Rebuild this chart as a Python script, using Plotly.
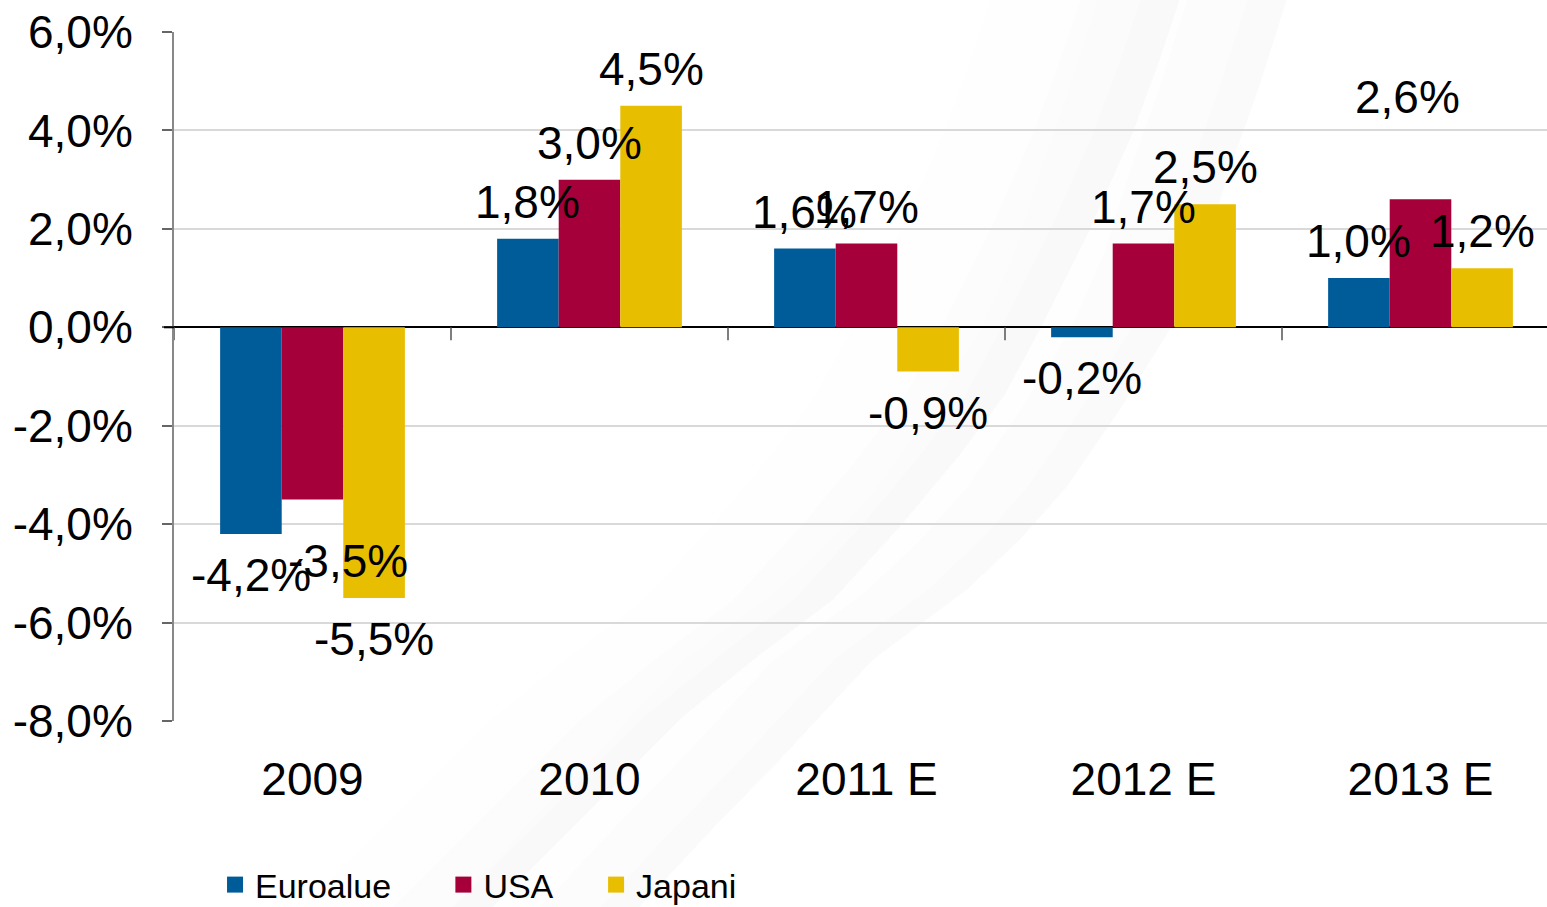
import plotly.graph_objects as go

categories = ["2009", "2010", "2011 E", "2012 E", "2013 E"]
euroalue = [-4.2, 1.8, 1.6, -0.2, 1.0]
usa = [-3.5, 3.0, 1.7, 1.7, 2.6]
japani = [-5.5, 4.5, -0.9, 2.5, 1.2]
series_names = ["Euroalue", "USA", "Japani"]
y_ticks = [-8, -6, -4, -2, 0, 2, 4, 6]

colors = ["#005C99", "#A5003A", "#E8BE00"]
FONT = "Liberation Sans, Arial, sans-serif"

W, H = 1547, 907
ML, MR, MT, MB = 174, 0, 32, 186
PW, PH = W - ML - MR, H - MT - MB
BARGAP = 0.333
CAT_PX = 277  # category slot width; the chart is cut at the right edge
X_RANGE = [-0.5, -0.5 + PW / CAT_PX]


def fmt(v):
    return f"{v:.1f}%".replace(".", ",")


fig = go.Figure()
series = [euroalue, usa, japani]
pads = ["\u00a0" * 5, "\u00a0" * 4, ""]
for name, vals, col, pad in zip(series_names, series, colors, pads):
    fig.add_trace(go.Bar(x=categories, y=vals, name=name, marker_color=col,
                         marker_line_width=0, showlegend=False))
    fig.add_trace(go.Scatter(x=[None], y=[None], mode="markers", name=name + pad,
                             marker=dict(symbol="square", size=22, color=col)))

# data labels (placement tweaks in pixels: series index, category index -> (dx, dy))
label_nudge = {(1, 0): (35, -20), (1, 4): (-13, 65)}
bar_px = CAT_PX * (1 - BARGAP) / 3
for si, vals in enumerate(series):
    for ci, v in enumerate(vals):
        dx, dy = label_nudge.get((si, ci), (0, 0))
        ys = 37 if v >= 0 else -41
        fig.add_annotation(x=ci, y=v, xref="x", yref="y",
                           xshift=(si - 1) * bar_px + dx, yshift=ys + dy,
                           text=fmt(v), showarrow=False, yanchor="middle",
                           font=dict(family=FONT, size=46, color="black"))


# background swoosh (decoration), pixel points -> paper coords
def to_paper(pts):
    return [((x - ML) / PW, (H - MB - y) / PH) for x, y in pts]


def band(edge, width, alpha):
    inner = [(x - width, y) for x, y in edge]
    pts = to_paper(edge + inner[::-1])
    path = "M " + " L ".join(f"{x:.4f},{y:.4f}" for x, y in pts) + " Z"
    return dict(type="path", path=path, xref="paper", yref="paper",
                fillcolor=f"rgba(0,0,0,{alpha})", line_width=0, layer="below")


edge1 = [(440, 960), (493, 907), (590, 810), (683, 717), (760, 655), (833, 600),
         (900, 527), (960, 455), (1005, 395), (1040, 330), (1090, 230),
         (1133, 133), (1160, 60), (1180, 0), (1195, -40)]
edge2 = [(590, 960), (640, 907), (710, 832), (780, 760), (873, 660), (920, 625),
         (967, 590), (1020, 540), (1067, 487), (1120, 410), (1170, 330),
         (1205, 250), (1230, 170), (1260, 85), (1287, 0), (1300, -40)]
shapes = []
for e in (edge1, edge2):
    for w, a in ((40, 0.008), (100, 0.007), (190, 0.005)):
        shapes.append(band(e, w, a))

# tick marks between categories on the zero line
for i in range(len(categories) + 1):
    shapes.append(dict(type="line", xref="x", yref="y", x0=i - 0.5, x1=i - 0.5,
                       ysizemode="pixel", yanchor=0, y0=0, y1=-13,
                       line=dict(color="#555555", width=1.5)))
shapes.append(dict(type="line", xref="paper", yref="y", x0=-10 / PW, x1=0, y0=0, y1=0,
                   line=dict(color="black", width=2)))

fig.update_layout(
    width=W, height=H,
    margin=dict(l=ML, r=MR, t=MT, b=MB),
    paper_bgcolor="white", plot_bgcolor="rgba(0,0,0,0)",
    barmode="group", bargap=BARGAP, bargroupgap=0,
    font=dict(family=FONT, color="black"),
    shapes=shapes,
    legend=dict(orientation="h", xref="container", yref="container",
                x=0.139, y=22 / H, xanchor="left", yanchor="middle",
                font=dict(family=FONT, size=34, color="black"),
                itemsizing="trace", bgcolor="rgba(0,0,0,0)"),
    xaxis=dict(type="category", range=X_RANGE,
               showgrid=False, showline=False, ticks="",
               tickfont=dict(family=FONT, size=46, color="black"),
               ticklabelstandoff=27, zeroline=False),
    yaxis=dict(range=[-8, 6], tickvals=y_ticks, ticktext=[fmt(v) for v in y_ticks],
               showgrid=True, gridcolor="#d9d9d9", gridwidth=1.5,
               showline=True, linecolor="#888888", linewidth=2,
               ticks="outside", ticklen=10, tickcolor="#666666", tickwidth=1.5,
               tickfont=dict(family=FONT, size=46, color="black"),
               ticklabelstandoff=20,
               zeroline=True, zerolinecolor="black", zerolinewidth=2),
)

fig.write_html("out.html")
